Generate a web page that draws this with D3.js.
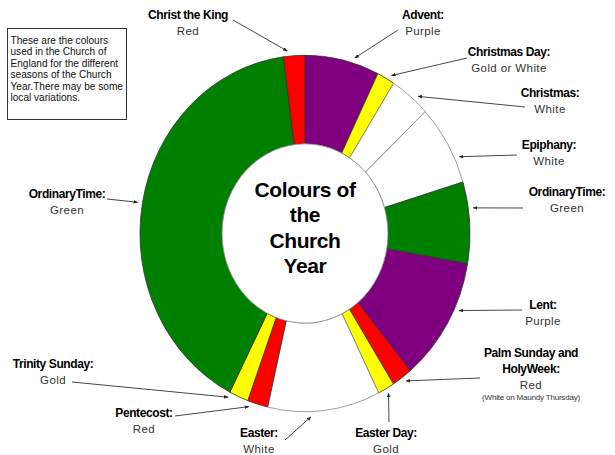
<!DOCTYPE html>
<html><head><meta charset="utf-8">
<script src="https://cdn.jsdelivr.net/npm/d3@7"></script>
<style>body{margin:0;background:#fff}svg{display:block}</style>
</head><body>
<svg id="c" width="615" height="455"></svg>
<script>
// ---- data ----
const seasons = ["Advent","Christmas Day","Christmas","Epiphany","Ordinary Time (1)","Lent","Palm Sunday and Holy Week","Easter Day","Easter","Pentecost","Trinity Sunday","Ordinary Time (2)","Christ the King"];
const spans   = [26.2, 6.3, 14.3, 26.4, 26.6, 40.6, 7.2, 5.9, 39.6, 7.2, 6.8, 145.4, 7.5];
const liturgicalColours = ["Purple","Gold","White","White","Green","Purple","Red","Gold","White","Red","Gold","Green","Red"];
const nameLabels = [["Advent:"],["Christmas Day:"],["Christmas:"],["Epiphany:"],["OrdinaryTime:"],["Lent:"],["Palm Sunday and","HolyWeek:"],["Easter Day:"],["Easter:"],["Pentecost:"],["Trinity Sunday:"],["OrdinaryTime:"],["Christ the King"]];
const colourLabels = ["Purple","Gold or White","White","White","Green","Purple","Red","Gold","White","Red","Gold","Green","Red"];
const notes = ["","","","","","","(White on Maundy Thursday)","","","","","",""];
const titleLines = ["Colours of","the","Church","Year"];
const infoLines = ["These are the colours","used in the Church of","England for the different","seasons of the Church","Year.There may be some","local variations."];

// ---- layout (positions only) ----
const labelPos = [ // text centre x, first baseline y, arrow start x,y, fraction along segment for arrow tip
  [423,19,398,30,0.65],[509,56,467,58,0.7],[550,97,525,107,0.64],[549,149,517,155,0.7],
  [567,196,523,208,0.33],[543,309,522,310,0.37],[531,357,480,378,0.42],[386,437,389,422,0.5],
  [259,437,285,440,0.62],[144,417,175,416,0.87],[53,368,72,382,0.97],[67,198,107,199,0.5],
  [188,19,233,20,0.2]];
const cx=305, cy=233.5, R=165, r0=83, sy=1.08;

const fillScale = d3.scaleOrdinal().domain(["Purple","Gold","White","Green","Red"])
  .range(["#800080","#ffff00","#ffffff","#008000","#ff0000"]);

const svg = d3.select("#c");
const defs = svg.append("defs");
defs.append("marker").attr("id","ah").attr("viewBox","0 0 10 10").attr("refX",9).attr("refY",5)
  .attr("markerWidth",5).attr("markerHeight",5).attr("orient","auto")
  .append("path").attr("d","M0,1L10,5L0,9Z").attr("fill","#222");

const pie = d3.pie().sort(null).value(d=>d)(spans);
const arc = d3.arc().innerRadius(r0).outerRadius(R);
const g = svg.append("g").attr("transform",`translate(${cx},${cy}) scale(1,${sy})`);
g.selectAll("path").data(pie).join("path")
  .attr("d",arc)
  .attr("fill",(d,i)=>fillScale(liturgicalColours[i]))
  .attr("stroke",(d,i)=>liturgicalColours[i]==="White"?"#888":"#333")
  .attr("stroke-width",0.8).attr("vector-effect","non-scaling-stroke");
g.append("circle").attr("r",r0).attr("fill","#fff").attr("stroke","#888")
  .attr("stroke-width",0.8).attr("vector-effect","non-scaling-stroke");

// centre title
svg.append("g").selectAll("text").data(titleLines).join("text")
  .attr("x",cx).attr("y",(d,i)=>197+i*25.3).attr("text-anchor","middle")
  .attr("font-family","Liberation Sans, Arial, sans-serif").attr("font-weight","bold")
  .attr("font-size",21).attr("letter-spacing",-0.4).attr("fill","#000").text(d=>d);

// labels and arrows
const lab = svg.append("g").attr("font-family","Liberation Sans, Arial, sans-serif").attr("text-anchor","middle");
pie.forEach((p,i)=>{
  const [tx,ty,ax,ay,f] = labelPos[i];
  const a = p.startAngle + (p.endAngle-p.startAngle)*f;
  const rr = R*1.03;
  const px = cx + rr*Math.sin(a), py = cy - rr*sy*Math.cos(a);
  lab.append("line").attr("x1",ax).attr("y1",ay).attr("x2",px).attr("y2",py)
    .attr("stroke","#333").attr("stroke-width",0.9).attr("marker-end","url(#ah)");
  let y = ty;
  nameLabels[i].forEach(t=>{
    lab.append("text").attr("x",tx).attr("y",y).attr("font-weight","bold").attr("font-size",12)
      .attr("letter-spacing",-0.4).attr("fill","#000").text(t);
    y += 16;
  });
  lab.append("text").attr("x",tx).attr("y",y).attr("font-size",11.5).attr("letter-spacing",0.4)
    .attr("fill","#333").text(colourLabels[i]);
  if(notes[i]) lab.append("text").attr("x",tx).attr("y",y+11).attr("font-size",8)
    .attr("letter-spacing",-0.2).attr("fill","#333").text(notes[i]);
});

// info box
svg.append("rect").attr("x",7.5).attr("y",28.5).attr("width",119).attr("height",91)
  .attr("fill","#fff").attr("stroke","#333").attr("stroke-width",1);
svg.append("g").selectAll("text").data(infoLines).join("text")
  .attr("x",10.5).attr("y",(d,i)=>44+i*11.4)
  .attr("font-family","Liberation Sans, Arial, sans-serif").attr("font-size",10.1)
  .attr("fill","#111").text(d=>d);
</script>
</body></html>
